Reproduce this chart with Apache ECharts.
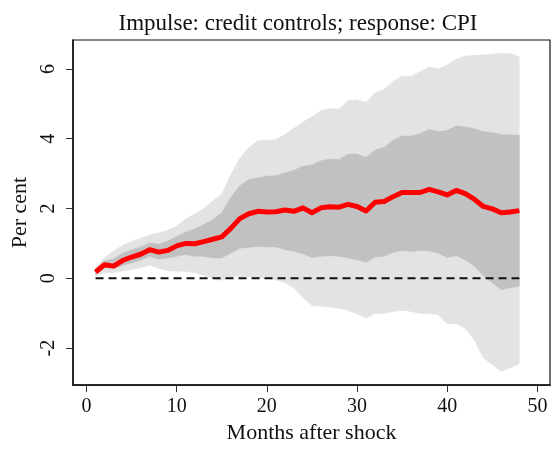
<!DOCTYPE html>
<html>
<head>
<meta charset="utf-8">
<script src="https://cdn.jsdelivr.net/npm/echarts@6/dist/echarts.min.js"></script>
<style>
  html, body { margin: 0; padding: 0; background: #fff; }
  #chart { width: 554px; height: 449px; }
</style>
</head>
<body>
<div id="chart"></div>
<script>
// months after the shock
const months = [1, 2, 3, 4, 5, 6, 7, 8, 9, 10, 11, 12,
  13, 14, 15, 16, 17, 18, 19, 20, 21, 22, 23, 24,
  25, 26, 27, 28, 29, 30, 31, 32, 33, 34, 35, 36,
  37, 38, 39, 40, 41, 42, 43, 44, 45, 46, 47, 48]

// median response (red line)
const median = [0.18, 0.39, 0.35, 0.51, 0.61, 0.69, 0.82, 0.75, 0.80, 0.93, 1.00, 0.99,
  1.05, 1.12, 1.19, 1.43, 1.71, 1.85, 1.92, 1.90, 1.91, 1.96, 1.92, 2.02,
  1.88, 2.02, 2.05, 2.04, 2.12, 2.06, 1.93, 2.18, 2.20, 2.34, 2.46, 2.46,
  2.46, 2.55, 2.48, 2.39, 2.52, 2.43, 2.27, 2.06, 1.99, 1.88, 1.90, 1.94]

// inner band (dark grey)
const innerHi = [0.25, 0.50, 0.56, 0.72, 0.82, 0.90, 1.02, 0.98, 1.07, 1.20, 1.32, 1.42,
  1.54, 1.68, 1.88, 2.32, 2.65, 2.83, 2.88, 2.93, 2.94, 3.02, 3.10, 3.21,
  3.25, 3.37, 3.42, 3.40, 3.56, 3.56, 3.46, 3.68, 3.75, 3.96, 4.08, 4.08,
  4.15, 4.27, 4.21, 4.24, 4.37, 4.34, 4.29, 4.20, 4.18, 4.12, 4.11, 4.10]
const innerLo = [0.11, 0.30, 0.27, 0.37, 0.44, 0.52, 0.63, 0.55, 0.58, 0.63, 0.68, 0.63,
  0.63, 0.58, 0.58, 0.72, 0.86, 0.89, 0.91, 0.90, 0.90, 0.82, 0.77, 0.70,
  0.60, 0.63, 0.65, 0.63, 0.58, 0.53, 0.46, 0.61, 0.63, 0.74, 0.80, 0.77,
  0.80, 0.78, 0.72, 0.60, 0.65, 0.53, 0.35, 0.08, -0.13, -0.33, -0.27, -0.23]

// outer band (light grey)
const outerHi = [0.30, 0.60, 0.78, 0.95, 1.06, 1.15, 1.24, 1.30, 1.38, 1.50, 1.70, 1.85,
  2.00, 2.22, 2.42, 2.97, 3.44, 3.75, 3.95, 3.96, 3.98, 4.12, 4.30, 4.48,
  4.63, 4.81, 4.87, 4.85, 5.09, 5.12, 5.04, 5.32, 5.42, 5.65, 5.79, 5.79,
  5.93, 6.06, 6.00, 6.12, 6.28, 6.37, 6.39, 6.40, 6.43, 6.45, 6.44, 6.34]
const outerLo = [0.06, 0.16, 0.16, 0.21, 0.25, 0.30, 0.38, 0.28, 0.22, 0.20, 0.20, 0.16,
  0.08, 0.00, -0.06, 0.04, 0.05, 0.04, 0.02, 0.00, -0.05, -0.12, -0.28, -0.55,
  -0.78, -0.80, -0.83, -0.86, -0.92, -1.02, -1.14, -1.01, -1.01, -0.95, -0.92, -0.95,
  -1.01, -1.01, -1.05, -1.30, -1.30, -1.44, -1.77, -2.28, -2.47, -2.66, -2.56, -2.45]

const xTicks = [0, 10, 20, 30, 40, 50]
const yTicks = [-2, 0, 2, 4, 6]

const chart = echarts.init(document.getElementById('chart'), null, { renderer: 'canvas' })

const pairs = (arr) => months.map((m, i) => [m, arr[i]])

const font = 'Liberation Serif'

// a shaded band: polygon along the upper bound and back along the lower bound
const band = (hi, lo, color, z) => ({
  type: 'custom',
  silent: true,
  data: [[months[0], hi[0]]],
  renderItem: function(params, api) {
    const points = []
    months.forEach((m, i) => points.push(api.coord([m, hi[i]])))
    for (let i = months.length - 1; i >= 0; i--) {
      points.push(api.coord([months[i], lo[i]]))
    }
    return {
      type: 'polygon',
      shape: { points: points },
      style: { fill: color, stroke: color, lineWidth: 0.5 }
    }
  },
  z: z
})

const option = {
  animation: false,
  title: {
    text: 'Impulse: credit controls; response: CPI',
    left: 293,
    textAlign: 'center',
    top: 7,
    textStyle: { fontFamily: font, fontSize: 23, fontWeight: 'normal', color: '#111' }
  },
  grid: {
    left: 73, right: 4, top: 40, bottom: 58,
    show: true, borderColor: '#111', borderWidth: 1.2, backgroundColor: '#fff'
  },
  xAxis: {
    type: 'value',
    min: -1.5,
    max: 51.4,
    name: 'Months after shock',
    nameLocation: 'middle',
    nameGap: 33,
    nameTextStyle: { fontFamily: font, fontSize: 22, color: '#111' },
    axisLine: { show: true, onZero: false, lineStyle: { color: '#111', width: 1.5 } },
    axisTick: { show: true, customValues: xTicks, length: 7, lineStyle: { color: '#333' } },
    axisLabel: { customValues: xTicks, margin: 12, fontFamily: font, fontSize: 20, color: '#111' },
    splitLine: { show: false }
  },
  yAxis: {
    type: 'value',
    min: -3.06,
    max: 6.83,
    name: 'Per cent',
    nameLocation: 'middle',
    nameRotate: 90,
    nameGap: 38,
    nameTextStyle: { fontFamily: font, fontSize: 22, color: '#111' },
    axisLine: { show: true, onZero: false, lineStyle: { color: '#111', width: 1.5 } },
    axisTick: { show: true, customValues: yTicks, length: 7, lineStyle: { color: '#333' } },
    axisLabel: { customValues: yTicks, rotate: 90, margin: 14, fontFamily: font, fontSize: 20, color: '#111' },
    splitLine: { show: false }
  },
  series: [
    band(outerHi, outerLo, '#e3e3e3', 1),
    band(innerHi, innerLo, '#c1c1c1', 2),
    {
      // zero line
      type: 'line',
      data: [[months[0], 0], [months[months.length - 1], 0]],
      symbol: 'none',
      silent: true,
      lineStyle: { color: '#111', width: 2, type: [8, 5] },
      z: 3
    },
    {
      type: 'line',
      data: pairs(median),
      symbol: 'none',
      lineStyle: { color: '#ff0000', width: 5, join: 'round' },
      z: 4
    }
  ]
}

chart.setOption(option)
</script>
</body>
</html>
